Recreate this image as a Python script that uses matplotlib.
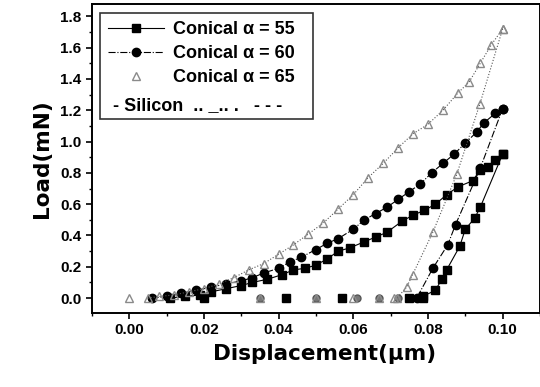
import matplotlib
matplotlib.use("Agg")
import matplotlib.pyplot as plt
from matplotlib.lines import Line2D
from matplotlib.ticker import MultipleLocator

plt.rcParams['font.family'] = ['Liberation Sans', 'DejaVu Sans']
plt.rcParams['font.weight'] = 'bold'

# loading branches
load55_x = [0.011, 0.015, 0.019, 0.022, 0.026, 0.030, 0.033, 0.037, 0.041, 0.044, 0.047, 0.050,
            0.053, 0.056, 0.059, 0.063, 0.066, 0.069, 0.073, 0.076, 0.079, 0.082, 0.085, 0.088,
            0.092, 0.094, 0.096, 0.098, 0.100]
load55_y = [0.00, 0.01, 0.02, 0.04, 0.06, 0.08, 0.10, 0.12, 0.15, 0.18, 0.19, 0.21,
            0.25, 0.30, 0.32, 0.36, 0.39, 0.42, 0.49, 0.53, 0.56, 0.60, 0.66, 0.71,
            0.75, 0.82, 0.84, 0.88, 0.92]
load60_x = [0.006, 0.010, 0.014, 0.018, 0.022, 0.026, 0.030, 0.033, 0.036, 0.040, 0.043, 0.046,
            0.050, 0.053, 0.056, 0.060, 0.063, 0.066, 0.069, 0.072, 0.075, 0.078, 0.081, 0.084,
            0.087, 0.090, 0.093, 0.095, 0.098, 0.100]
load60_y = [0.00, 0.01, 0.03, 0.05, 0.07, 0.09, 0.11, 0.13, 0.16, 0.19, 0.23, 0.26,
            0.31, 0.35, 0.38, 0.44, 0.50, 0.54, 0.58, 0.63, 0.68, 0.73, 0.80, 0.86,
            0.92, 0.99, 1.06, 1.12, 1.18, 1.21]
load65_x = [0.005, 0.008, 0.012, 0.016, 0.020, 0.024, 0.028, 0.032, 0.036, 0.040, 0.044, 0.048,
            0.052, 0.056, 0.060, 0.064, 0.068, 0.072, 0.076, 0.080, 0.084, 0.088, 0.091, 0.094,
            0.097, 0.100]
load65_y = [0.00, 0.01, 0.02, 0.04, 0.06, 0.09, 0.13, 0.18, 0.22, 0.28, 0.34, 0.41,
            0.48, 0.57, 0.66, 0.77, 0.86, 0.96, 1.05, 1.11, 1.20, 1.31, 1.38, 1.50,
            1.62, 1.72]

# unloading branches
unl55_x = [0.100, 0.094, 0.0925, 0.090, 0.0885, 0.085, 0.0837, 0.082, 0.0786]
unl55_y = [0.92, 0.58, 0.51, 0.44, 0.33, 0.18, 0.12, 0.05, 0.01]
unl60_x = [0.100, 0.094, 0.0874, 0.0853, 0.0813, 0.077]
unl60_y = [1.21, 0.83, 0.47, 0.34, 0.19, 0.00]
unl65_x = [0.100, 0.0939, 0.0877, 0.0813, 0.0759, 0.0743, 0.0717]
unl65_y = [1.72, 1.24, 0.79, 0.42, 0.15, 0.07, 0.00]

# points sitting on zero load
zero55_x = [0.020, 0.042, 0.057, 0.075, 0.0786]
zero60_x = [0.035, 0.050, 0.061, 0.067, 0.072]
zero65_x = [0.000, 0.035, 0.050, 0.060, 0.067, 0.071]

fig = plt.figure(figsize=(5.4, 3.87), dpi=100)
ax = fig.add_axes([0.170, 0.191, 0.83, 0.799])

tri_kw = dict(marker='^', markersize=5.5, markerfacecolor='none', markeredgecolor='#8a8a8a',
              markeredgewidth=1.0)

ax.plot(load55_x, load55_y, '-', color='black', lw=0.8, marker='s', markersize=5.5)
ax.plot(unl55_x, unl55_y, '-', color='black', lw=0.8, marker='s', markersize=5.5)
ax.plot(zero55_x, [0] * len(zero55_x), ls='none', color='black', marker='s', markersize=5.5)

ax.plot(load60_x, load60_y, '-.', color='black', lw=0.8, marker='o', markersize=6)
ax.plot(unl60_x, unl60_y, '-.', color='black', lw=0.8, marker='o', markersize=6)
ax.plot(zero60_x, [0] * len(zero60_x), ls='none', color='#555555', marker='o', markersize=5,
        markerfacecolor='#777777')

ax.plot(load65_x, load65_y, ':', color='#555555', lw=0.8, **tri_kw)
ax.plot(unl65_x, unl65_y, ':', color='#555555', lw=0.8, **tri_kw)
ax.plot(zero65_x, [0] * len(zero65_x), ls='none', **tri_kw)

ax.set_xlim(-0.01, 0.11)
ax.set_ylim(-0.096, 1.88)
ax.xaxis.set_major_locator(MultipleLocator(0.02))
ax.xaxis.set_minor_locator(MultipleLocator(0.01))
ax.yaxis.set_major_locator(MultipleLocator(0.2))
ax.yaxis.set_minor_locator(MultipleLocator(0.1))
ax.tick_params(which='major', direction='out', length=4, width=1.2, labelsize=11)
ax.tick_params(which='minor', direction='out', length=2.5, width=1)
ax.xaxis.set_major_formatter(plt.FuncFormatter(lambda v, p: f"{v:.2f}"))
ax.yaxis.set_major_formatter(plt.FuncFormatter(lambda v, p: f"{v:.1f}"))
for s in ax.spines.values():
    s.set_linewidth(1.4)

ax.set_xlabel("Displacement(μm)", fontsize=15.5, fontweight='bold',
              family=['DejaVu Sans'])
ax.xaxis.set_label_coords(0.52, -0.10)
ax.set_ylabel("Load(mN)", fontsize=15.5, fontweight='bold', labelpad=6,
              family=['DejaVu Sans'])

handles = [
    Line2D([], [], color='black', lw=0.8, marker='s', markersize=5.5),
    Line2D([], [], color='black', lw=0.8, ls='-.', marker='o', markersize=6),
    Line2D([], [], ls='none', **tri_kw),
    Line2D([], [], ls='none'),
]
labels = ["Conical α = 55  ", "Conical α = 60  ", "Conical α = 65  ", " "]
leg = ax.legend(handles, labels, loc='upper left', bbox_to_anchor=(0.018, 0.971),
                fontsize=13, frameon=True, fancybox=False, edgecolor='black',
                handlelength=3.1, borderpad=0.45, labelspacing=0.4, handletextpad=0.5,
                borderaxespad=0)
leg.get_frame().set_linewidth(1.2)
ax.text(0.047, 0.672, "- Silicon  .. _.. .   - - -", transform=ax.transAxes,
        fontsize=13, fontweight='bold', va='center', zorder=10)

fig.savefig("out.png", dpi=100)
